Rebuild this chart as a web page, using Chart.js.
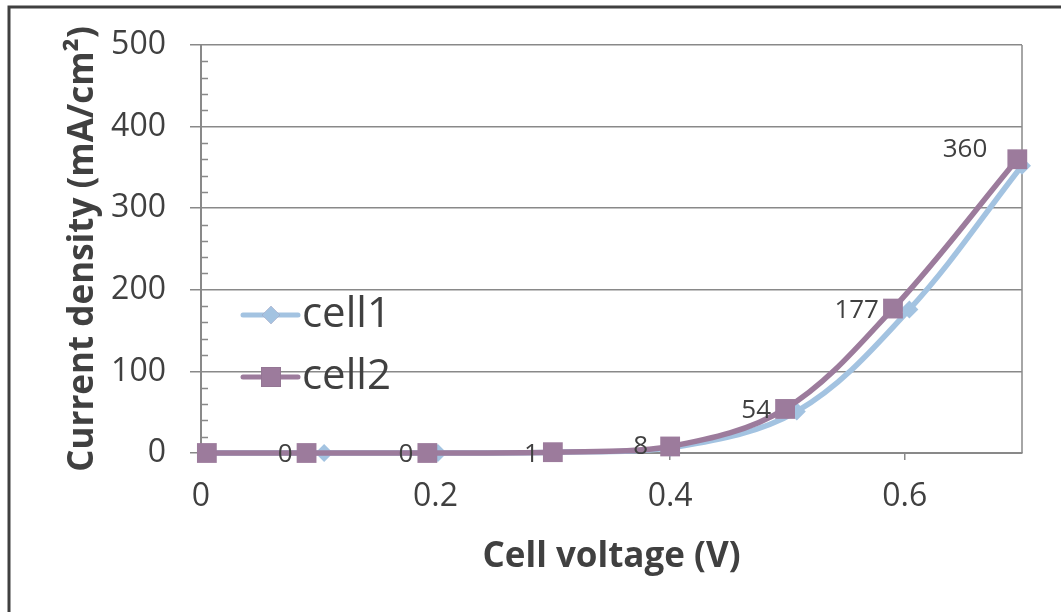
<!DOCTYPE html>
<html>
<head>
<meta charset="utf-8">
<script src="https://cdn.jsdelivr.net/npm/chart.js@4.4.1/dist/chart.umd.min.js"></script>
<style>
    html, body { margin: 0; padding: 0; background: #fff; }
    #wrap { width: 1061px; height: 612px; }
</style>
</head>
<body>
<div id="wrap"><canvas id="ivChart" width="1061" height="612"></canvas></div>
<script>
const seriesNames = ['cell1', 'cell2'];
const voltageCell1 = [0.005, 0.105, 0.202, 0.303, 0.400, 0.508, 0.604, 0.700];
const currentCell1 = [0, 0, 0, 1, 6, 51, 176, 352];
const voltageCell2 = [0.005, 0.090, 0.193, 0.300, 0.400, 0.498, 0.590, 0.696];
const currentCell2 = [0, 0, 0, 1, 8, 54, 177, 360];
const xTickValues = [0, 0.2, 0.4, 0.6];
const yTickValues = [0, 100, 200, 300, 400, 500];

const textColor = '#404040';
const axisGray = '#898989';
const cell1Color = '#a3c3e1';
const cell2Color = '#9c7b9c';

function toPoints(xs, ys) {
    return xs.map(function(x, i) { return { x: x, y: ys[i] }; });
}

// outer frame, plot right border and minor ticks on the value axis
const frameLines = {
    id: 'frameLines',
    beforeDraw(chart) {
        const ctx = chart.ctx;
        ctx.save();
        ctx.fillStyle = '#fff';
        ctx.fillRect(0, 0, chart.width, chart.height);
        ctx.strokeStyle = '#404040';
        ctx.lineWidth = 3;
        ctx.strokeRect(9, 7, chart.width + 20, chart.height + 20);
        ctx.restore();
    },
    beforeDatasetsDraw(chart) {
        const ctx = chart.ctx;
        const area = chart.chartArea;
        const y = chart.scales.y;
        ctx.save();
        ctx.strokeStyle = axisGray;
        ctx.lineWidth = 1.5;
        ctx.beginPath();
        ctx.moveTo(area.right, area.top);
        ctx.lineTo(area.right, area.bottom);
        for (let v = 20; v < 500; v += 20) {
            if (v % 100 === 0) continue;
            const py = Math.round(y.getPixelForValue(v)) + 0.5;
            ctx.moveTo(area.left, py);
            ctx.lineTo(area.left + 7, py);
        }
        ctx.stroke();
        ctx.restore();
    }
};

// value labels to the left of the cell2 points
const pointLabels = {
    id: 'pointLabels',
    afterDatasetsDraw(chart) {
        const ctx = chart.ctx;
        const meta = chart.getDatasetMeta(1);
        const values = chart.data.datasets[1].data;
        ctx.save();
        ctx.font = '26px "Open Sans"';
        ctx.fillStyle = textColor;
        ctx.textAlign = 'right';
        ctx.textBaseline = 'middle';
        meta.data.forEach(function(pt, i) {
            if (i === 0) return;
            let dx = -14, dy = 2;
            if (i === 4) { dx = -22; dy = 0; }
            if (i === values.length - 1) { dx = -30; dy = -10; }
            ctx.fillText(String(values[i].y), pt.x + dx, pt.y + dy);
        });
        ctx.restore();
    }
};

// legend drawn inside the plot area
const innerLegend = {
    id: 'innerLegend',
    afterDraw(chart) {
        const ctx = chart.ctx;
        const area = chart.chartArea;
        const x0 = area.left + 42;
        const rows = [area.top + 270, area.top + 332];
        ctx.save();
        chart.data.datasets.forEach(function(ds, i) {
            const yy = rows[i];
            ctx.strokeStyle = ds.borderColor;
            ctx.lineWidth = 5;
            ctx.lineCap = 'round';
            ctx.beginPath();
            ctx.moveTo(x0, yy);
            ctx.lineTo(x0 + 55, yy);
            ctx.stroke();
            Chart.helpers.drawPoint(ctx, {
                pointStyle: ds.pointStyle,
                radius: ds.pointRadius,
                borderWidth: 0
            }, x0 + 28, yy);
            ctx.fillStyle = ds.pointBackgroundColor;
            ctx.fill();
            ctx.fillStyle = textColor;
            ctx.font = '42px "Open Sans"';
            ctx.textAlign = 'left';
            ctx.textBaseline = 'middle';
            ctx.fillText(ds.label, x0 + 59, yy);
        });
        ctx.restore();
    }
};

const ctx = document.getElementById('ivChart').getContext('2d');

new Chart(ctx, {
    type: 'scatter',
    data: {
        datasets: [
            {
                label: seriesNames[0],
                data: toPoints(voltageCell1, currentCell1),
                showLine: true,
                borderColor: cell1Color,
                backgroundColor: cell1Color,
                pointBackgroundColor: cell1Color,
                pointBorderWidth: 0,
                borderWidth: 5.5,
                tension: 0.35,
                pointStyle: 'rectRot',
                pointRadius: 9,
                order: 2,
                clip: false
            },
            {
                label: seriesNames[1],
                data: toPoints(voltageCell2, currentCell2),
                showLine: true,
                borderColor: cell2Color,
                backgroundColor: cell2Color,
                pointBackgroundColor: cell2Color,
                pointBorderWidth: 0,
                borderWidth: 5.5,
                tension: 0.35,
                pointStyle: 'rect',
                pointRadius: 14,
                order: 1,
                clip: false
            }
        ]
    },
    options: {
        responsive: false,
        animation: false,
        layout: { padding: { top: 45, right: 39, bottom: 0, left: 0 } },
        plugins: {
            legend: { display: false },
            tooltip: { enabled: false }
        },
        scales: {
            x: {
                type: 'linear',
                min: 0,
                max: 0.7,
                afterBuildTicks: function(scale) {
                    scale.ticks = xTickValues.map(function(v) { return { value: v }; });
                },
                afterFit: function(scale) {
                    scale.height = 159;
                    scale.paddingLeft = 0;
                    scale.paddingRight = 0;
                },
                ticks: {
                    font: { family: 'Open Sans', size: 32 },
                    color: textColor,
                    padding: 18,
                    maxRotation: 0,
                    callback: function(v) { return String(v); }
                },
                grid: {
                    drawOnChartArea: false,
                    color: axisGray,
                    lineWidth: 1.5,
                    tickLength: 7
                },
                border: { color: axisGray, width: 2 },
                title: {
                    display: true,
                    text: 'Cell voltage (V)',
                    color: textColor,
                    font: { family: 'Open Sans', size: 35, weight: 'bold' },
                    padding: { top: 0, bottom: 34 }
                }
            },
            y: {
                min: 0,
                max: 500,
                afterBuildTicks: function(scale) {
                    scale.ticks = yTickValues.map(function(v) { return { value: v }; });
                },
                afterFit: function(scale) {
                    scale.width = 201;
                    scale.paddingTop = 0;
                    scale.paddingBottom = 0;
                },
                ticks: {
                    font: { family: 'Open Sans', size: 32 },
                    color: textColor,
                    padding: 24
                },
                grid: {
                    color: axisGray,
                    lineWidth: 1.5,
                    tickLength: 11
                },
                border: { color: axisGray, width: 2 },
                title: {
                    display: true,
                    text: 'Current density (mA/cm²)',
                    color: textColor,
                    font: { family: 'Open Sans', size: 35, weight: 'bold' },
                    padding: { top: 62, bottom: 0 }
                }
            }
        }
    },
    plugins: [frameLines, pointLabels, innerLegend]
});
</script>
</body>
</html>
